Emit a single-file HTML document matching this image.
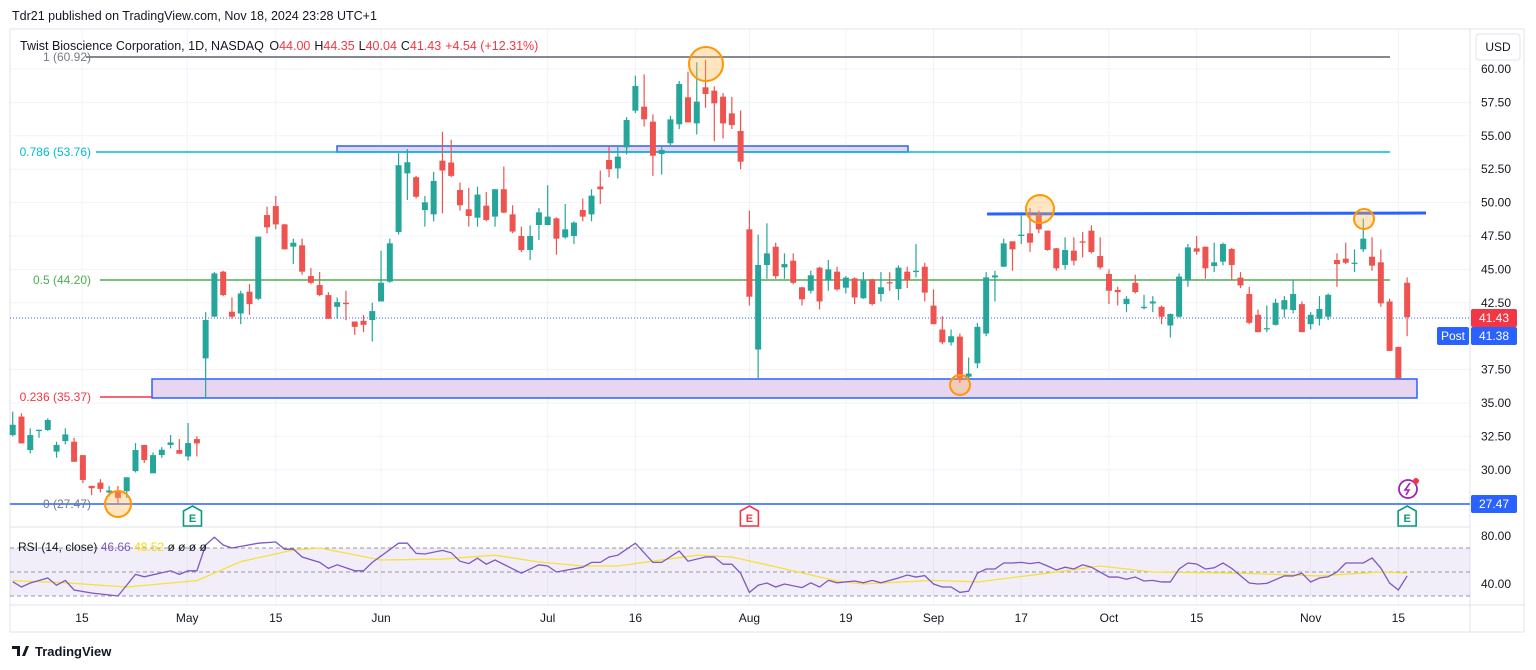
<!DOCTYPE html>
<html><head><meta charset="utf-8">
<style>
body{margin:0;background:#fff;font-family:"Liberation Sans",sans-serif;}
svg{display:block}
text{font-family:"Liberation Sans",sans-serif;}
</style></head>
<body>
<svg id="c" width="1536" height="670" viewBox="0 0 1536 670" xmlns="http://www.w3.org/2000/svg">
<rect x="0" y="0" width="1536" height="670" fill="#fff"/>
<text x="12" y="20" font-size="12.5" fill="#131722">Tdr21 published on TradingView.com, Nov 18, 2024 23:28 UTC+1</text>
<g id="grid"></g>
<rect x="10" y="29" width="1514" height="603" fill="none" stroke="#e0e3eb"/>
<line x1="1470" y1="29" x2="1470" y2="632" stroke="#e0e3eb"/>
<line x1="10" y1="527" x2="1470" y2="527" stroke="#e0e3eb"/>
<line x1="10" y1="605" x2="1524" y2="605" stroke="#e0e3eb"/>
<g id="drawings">
<rect x="337" y="146" width="571" height="6" fill="#e6d5f0" stroke="#2962ff" stroke-width="1.5"/>
<rect x="152" y="379" width="1265" height="19" fill="#e8d6f0" stroke="#2962ff" stroke-width="1.5"/>
<line x1="86" y1="57" x2="1390" y2="57" stroke="#5d606b" stroke-width="1.5"/>
<line x1="96" y1="152" x2="1390" y2="152" stroke="#00bcd4" stroke-width="1.5"/>
<line x1="100" y1="280" x2="1390" y2="280" stroke="#4caf50" stroke-width="1.5"/>
<line x1="100" y1="397" x2="152" y2="397" stroke="#f23645" stroke-width="1.5"/>
<line x1="10" y1="504" x2="1470" y2="504" stroke="#2962ff" stroke-width="1.5"/>
<line x1="987" y1="214" x2="1426" y2="213" stroke="#2962ff" stroke-width="3"/>
<line x1="10" y1="318" x2="1470" y2="318" stroke="#2962ff" stroke-width="1" stroke-dasharray="1 2"/>
<text x="91" y="61" font-size="12" fill="#787b86" text-anchor="end">1 (60.92)</text>
<text x="91" y="156" font-size="12" fill="#00bcd4" text-anchor="end">0.786 (53.76)</text>
<text x="91" y="284" font-size="12" fill="#4caf50" text-anchor="end">0.5 (44.20)</text>
<text x="91" y="401" font-size="12" fill="#f23645" text-anchor="end">0.236 (35.37)</text>
<text x="91" y="508" font-size="12" fill="#787b86" text-anchor="end">0 (27.47)</text>
</g>
<g id="candles"></g>
<g id="circles">
<circle cx="706" cy="64" r="17" fill="#ffb74d" fill-opacity="0.35" stroke="#ff9800" stroke-width="2"/>
<circle cx="118" cy="504" r="13" fill="#ffb74d" fill-opacity="0.35" stroke="#ff9800" stroke-width="2"/>
<circle cx="1040" cy="209" r="14" fill="#ffb74d" fill-opacity="0.35" stroke="#ff9800" stroke-width="2"/>
<circle cx="960" cy="385" r="10" fill="#ffb74d" fill-opacity="0.35" stroke="#ff9800" stroke-width="2"/>
<circle cx="1364" cy="219" r="10" fill="#ffb74d" fill-opacity="0.35" stroke="#ff9800" stroke-width="2"/>
</g>
<text x="20" y="50" font-size="12.5" fill="#131722">Twist Bioscience Corporation, 1D, NASDAQ <tspan dx="2">O</tspan><tspan fill="#f23645">44.00</tspan><tspan dx="4">H</tspan><tspan fill="#f23645">44.35</tspan><tspan dx="4">L</tspan><tspan fill="#f23645">40.04</tspan><tspan dx="4">C</tspan><tspan fill="#f23645">41.43</tspan><tspan dx="4" fill="#f23645">+4.54 (+12.31%)</tspan></text>
<g id="earn"></g>
<g>
<circle cx="1408" cy="489" r="9" fill="none" stroke="#9c27b0" stroke-width="1.8"/>
<path d="M1410 483 L1405 490 L1409 490 L1406 495" fill="none" stroke="#9c27b0" stroke-width="1.6"/>
<circle cx="1416" cy="481" r="3" fill="#f23645"/>
</g>
<g id="rsi"></g>
<text x="18" y="551" font-size="12" fill="#131722">RSI (14, close) <tspan fill="#7e57c2">46.66</tspan> <tspan fill="#f5d90a">48.52</tspan> <tspan>ø ø ø ø</tspan></text>
<g id="yaxis"></g>
<g id="xaxis"></g>
<rect x="1476" y="34" width="44" height="26" rx="3" fill="#fff" stroke="#e0e3eb"/>
<text x="1498" y="51" font-size="12" fill="#131722" text-anchor="middle">USD</text>
<rect x="1471" y="309" width="46" height="18" rx="2" fill="#f23645"/>
<text x="1494" y="322" font-size="12" fill="#fff" text-anchor="middle">41.43</text>
<rect x="1437" y="327" width="32" height="18" rx="2" fill="#2962ff"/>
<text x="1453" y="340" font-size="12" fill="#fff" text-anchor="middle">Post</text>
<rect x="1471" y="327" width="46" height="18" rx="2" fill="#2962ff"/>
<text x="1494" y="340" font-size="12" fill="#fff" text-anchor="middle">41.38</text>
<rect x="1471" y="495" width="46" height="18" rx="2" fill="#2962ff"/>
<text x="1494" y="508" font-size="12" fill="#fff" text-anchor="middle">27.47</text>
<g>
<path d="M12 646 h8 v10 h-3 v-7 h-5z M22 656 l4 -10 h3 l-4 10z" fill="#131722"/>
<text x="35" y="656" font-size="13" font-weight="bold" fill="#131722">TradingView</text>
</g>
</svg>
<script>
const opens=[32.6,33.98,31.48,32.9,32.98,31.36,32.15,32.1,31.1,28.8,29.04,28.3,28.4,28.4,29.9,31.86,29.74,31.1,31.86,31.48,31.0,32.3,38.34,41.46,44.83,41.83,41.7,43.33,42.8,49.07,49.74,48.37,46.7,46.8,44.5,43.83,43.08,42.2,42.5,41.1,41.15,41.21,42.6,44.08,47.8,52.19,51.9,49.44,49.12,53.14,53.0,50.94,49.5,48.87,49.77,48.95,51.0,49.12,47.5,46.45,48.32,48.32,48.82,47.4,47.5,49.45,49.12,51.2,53.19,52.56,54.14,56.88,57.18,56.06,53.64,54.44,55.86,57.88,55.93,58.63,58.38,57.93,56.68,55.36,48.0,39.0,45.33,46.7,45.15,45.65,43.66,43.4,45.13,44.2,44.83,43.63,44.33,42.84,44.26,43.16,44.04,43.53,44.83,44.8,45.2,42.29,40.5,39.54,39.97,36.97,37.97,40.2,44.4,45.2,47.1,47.5,47.7,49.07,47.9,46.58,45.33,46.4,47.1,47.9,46.0,44.66,43.46,42.4,44.0,42.1,42.45,42.2,40.8,41.46,44.2,46.58,46.7,45.25,45.58,46.53,44.38,43.16,41.6,40.55,40.85,42.0,41.96,42.4,40.9,41.3,41.46,45.7,45.8,45.45,46.5,45.95,45.53,42.6,39.2,44.0];
const highs=[34.35,34.23,33.1,33.0,33.85,32.1,33.1,32.4,31.1,28.8,29.3,28.8,28.8,29.44,32.0,31.86,31.3,31.7,32.6,32.3,33.5,32.5,41.8,44.8,44.9,42.9,43.4,43.9,47.45,49.7,50.5,48.4,47.3,47.3,45.1,44.8,43.3,42.9,43.4,41.1,41.6,42.5,46.4,47.3,53.7,54.0,52.0,50.5,52.3,55.3,54.7,51.5,51.1,51.2,50.8,51.0,52.7,49.8,48.2,48.3,49.6,51.3,48.9,49.9,48.6,50.3,51.0,52.4,54.2,54.3,56.4,59.5,59.6,56.6,54.3,56.5,59.1,59.8,60.5,60.7,58.7,58.2,57.9,56.9,49.4,47.6,48.45,47.0,46.2,46.2,43.7,44.9,45.2,45.7,45.2,44.5,44.4,44.8,44.3,44.8,44.8,45.3,45.2,46.9,45.5,43.5,41.5,40.5,40.2,38.4,41.0,44.8,44.9,47.3,47.1,49.1,49.6,49.4,47.9,46.6,47.4,47.4,47.8,48.3,47.4,45.0,43.7,43.0,44.6,43.1,43.0,42.3,41.7,44.7,46.9,47.5,46.7,47.0,47.0,46.6,44.8,43.7,42.0,42.3,42.8,43.0,44.2,42.6,41.8,43.0,43.2,46.2,47.0,46.5,48.8,47.4,46.5,42.8,39.2,44.4];
const lows=[32.5,31.98,31.23,32.4,32.9,30.9,31.9,30.6,29.0,28.1,28.3,28.0,27.5,27.9,29.8,30.5,29.74,30.9,31.6,31.2,30.7,31.0,35.35,41.46,43.0,41.3,40.9,41.6,42.7,47.7,48.0,46.5,45.4,44.6,43.9,43.0,41.3,41.3,41.2,40.1,40.3,39.6,42.6,44.0,47.6,50.2,50.3,48.2,48.6,49.2,51.9,49.4,48.2,48.2,48.6,48.2,49.2,47.7,46.3,45.7,47.2,48.3,46.1,47.3,46.9,48.6,48.6,49.9,51.9,51.8,53.6,56.7,55.7,52.0,52.1,54.2,55.5,56.0,55.1,57.1,54.6,54.8,55.5,52.5,42.3,36.8,44.3,44.3,44.3,43.9,42.3,43.2,42.0,43.4,43.4,43.2,42.4,42.8,42.3,42.6,43.4,42.7,43.6,44.4,42.6,40.9,39.4,39.3,36.5,36.8,37.6,40.0,42.6,45.2,44.9,46.9,46.3,47.7,46.4,44.9,45.0,45.3,45.9,46.2,45.0,42.4,42.3,41.8,43.2,42.0,41.8,40.9,39.9,41.4,43.7,46.1,44.3,44.8,45.3,44.2,43.6,40.9,40.3,40.3,40.8,41.4,41.7,40.3,40.5,40.8,41.2,43.7,45.4,44.8,46.3,44.9,42.2,38.9,36.8,40.0];
const closes=[33.37,31.98,32.6,33.0,33.73,31.86,32.65,30.6,29.24,28.62,28.57,28.45,27.9,29.44,31.48,30.73,31.1,31.5,32.05,31.2,32.0,31.98,41.21,44.7,43.08,41.46,43.2,42.4,47.45,48.15,48.37,46.5,47.0,44.83,44.0,43.08,41.3,42.55,42.4,40.7,40.85,41.88,44.0,46.95,52.8,53.02,50.44,50.02,51.62,52.4,52.0,49.8,49.0,50.6,48.7,51.0,49.25,47.83,46.45,47.5,49.27,48.95,47.3,48.0,48.5,48.95,50.52,51.0,52.5,53.44,56.18,58.73,56.23,53.51,53.94,56.23,58.88,56.0,57.56,58.13,57.43,55.93,55.8,53.06,42.96,45.33,46.2,44.5,45.4,44.0,42.76,44.56,42.6,45.0,43.5,44.38,42.9,44.16,42.4,43.66,43.95,45.13,44.2,44.9,43.26,40.9,39.54,40.0,36.72,37.2,40.7,44.4,44.55,46.95,46.5,47.6,47.0,48.0,46.45,45.08,46.45,45.65,47.0,46.3,45.15,43.4,43.3,42.8,43.3,42.2,42.6,41.46,41.66,44.46,46.65,46.33,45.08,45.53,46.9,45.33,43.8,41.0,40.3,40.6,42.5,42.7,43.16,40.3,41.6,42.04,43.1,45.4,45.5,45.5,47.3,45.28,42.46,38.9,36.85,41.43];
const priceTicks=[60,57.5,55,52.5,50,47.5,45,42.5,37.5,35,32.5,30];
const timeLabels=["15","May","15","Jun","Jul","16","Aug","19","Sep","17","Oct","15","Nov","15"];
const timeLabelIdx=[7.9,19.9,30,42,61,71,84,95,105,115,125,135,148,158];
const rsiIdx=[0,1,2,4,5,6,7,9,12,14,15,18,19,20,21,22,23,24,25,28,30,31,32,33,35,36,37,39,40,41,44,45,46,47,49,50,51,52,53,54,55,58,60,61,62,65,66,67,68,69,71,73,74,76,77,79,80,81,82,83,84,85,86,87,88,90,91,92,93,94,96,97,98,99,100,101,102,103,104,105,106,107,108,109,110,111,112,113,114,115,116,117,118,119,120,121,122,123,125,126,127,128,129,130,131,132,133,134,135,136,137,138,139,141,142,143,145,146,147,148,149,150,151,152,154,155,156,157,158,159];
const rsiVal=[41.9,37.5,40.8,45,39,43,35,32.5,30,48,46,51,48,51,51,72.5,79,72.5,70,74,75,69,69,62.5,58,53,56,51,51,58,74,74,65.5,65,68,66,59,57,61.5,56.5,60,49,56,55,50,54,58,58,62.5,64,74,58,58,67.5,59,62.5,62.5,56.5,56.5,49,33,39,40.8,37.5,40,37,41,37.5,43,41,42.5,41,43,41,43,45,47.5,45.8,47,40,37.5,37.5,33,34,49,52.5,52.5,57.5,57.5,58,57,58,55,51.7,54,52.5,56,54,45.8,45.8,44,45.8,42.5,43,41.7,41.7,52.5,57.5,56.7,52.5,53.5,57.5,53,40.8,40,40.5,46.7,46.7,49,41.7,45,46,50,57.5,57.5,61.7,53.3,40.8,35,46.7];
const maIdx=[0,6,13,21,26,32,35,42,49,55,60,65,69,73,78,82,86,94,97,105,110,118,124,130,140,149,156,159];
const maVal=[42.8,41,37.5,42.8,58.6,68.3,70,60,60.8,64,58.3,55,55,59,64,62.5,56,42.5,40,43,41.7,49,55,50,49,46.7,50,49];

const NS="http://www.w3.org/2000/svg";
function el(tag,attrs,parent){const e=document.createElementNS(NS,tag);for(const k in attrs)e.setAttribute(k,attrs[k]);parent.appendChild(e);return e;}
const xOf=i=>12.7+8.77*i;
const yOf=p=>69+(60-p)*13.36;
const ryOf=v=>536+(80-v)*1.2;

const grid=document.getElementById('grid');
priceTicks.forEach(p=>{const l=el('line',{x1:10,x2:1470,y1:yOf(p),y2:yOf(p),stroke:'#f0f3fa'},grid);

});
timeLabelIdx.forEach(i=>{const l=el('line',{x1:xOf(i),x2:xOf(i),y1:29,y2:605,stroke:'#f0f3fa'},grid);

});

const cg=document.getElementById('candles');
closes.forEach((c,i)=>{
 const o=opens[i],h=highs[i],l=lows[i];const up=c>=o;const col=up?'#26a69a':'#ef5350';const x=xOf(i);
 const w=el('line',{x1:x,x2:x,y1:yOf(h),y2:yOf(l),stroke:col,'stroke-width':1.2},cg);
 
 
 const top=yOf(Math.max(o,c)),bot=yOf(Math.min(o,c));
 const b=el('rect',{x:x-3,y:top,width:6,height:Math.max(1.2,bot-top),fill:col},cg);
 
 
});

const ya=document.getElementById('yaxis');
priceTicks.forEach(p=>{const t=el('text',{x:1481,y:yOf(p)+4,'font-size':12,fill:'#131722'},ya);t.textContent=p.toFixed(2);

});
[[80,536],[40,584]].forEach(a=>{const t=el('text',{x:1481,y:a[1]+4,'font-size':12,fill:'#131722'},ya);t.textContent=a[0].toFixed(2);

});

const xa=document.getElementById('xaxis');
timeLabels.forEach((s,k)=>{const t=el('text',{x:xOf(timeLabelIdx[k]),y:622,'font-size':12,fill:'#131722','text-anchor':'middle'},xa);t.textContent=s;

});

const rg=document.getElementById('rsi');
const bg=el('rect',{x:10,y:ryOf(70),width:1460,height:ryOf(30)-ryOf(70),fill:'#7e57c2','fill-opacity':0.1},rg);


[70,50,30].forEach(v=>{const l=el('line',{x1:10,x2:1470,y1:ryOf(v),y2:ryOf(v),stroke:'#9598a1','stroke-dasharray':'4 3'},rg);

});
const ma=el('polyline',{points:maIdx.map((i,k)=>xOf(i)+','+ryOf(maVal[k])).join(' '),fill:'none',stroke:'#f5e13a','stroke-width':1.3},rg);


const rl=el('polyline',{points:rsiIdx.map((i,k)=>xOf(i)+','+ryOf(rsiVal[k])).join(' '),fill:'none',stroke:'#7e57c2','stroke-width':1.3},rg);



const eg=document.getElementById('earn');
[[20.5,'#089981'],[84,'#f23645'],[159,'#089981']].forEach(a=>{const x=xOf(a[0]);
 const g=el('g',{},eg);
 
 
 el('path',{d:`M${x} 506 L${x+9} 511 L${x+9} 526 L${x-9} 526 L${x-9} 511 Z`,fill:'#fff',stroke:a[1],'stroke-width':1.6},g);
 const t=el('text',{x:x,y:522,'font-size':11,'font-weight':'bold',fill:a[1],'text-anchor':'middle'},g);t.textContent='E';
});
</script>
</body></html>
